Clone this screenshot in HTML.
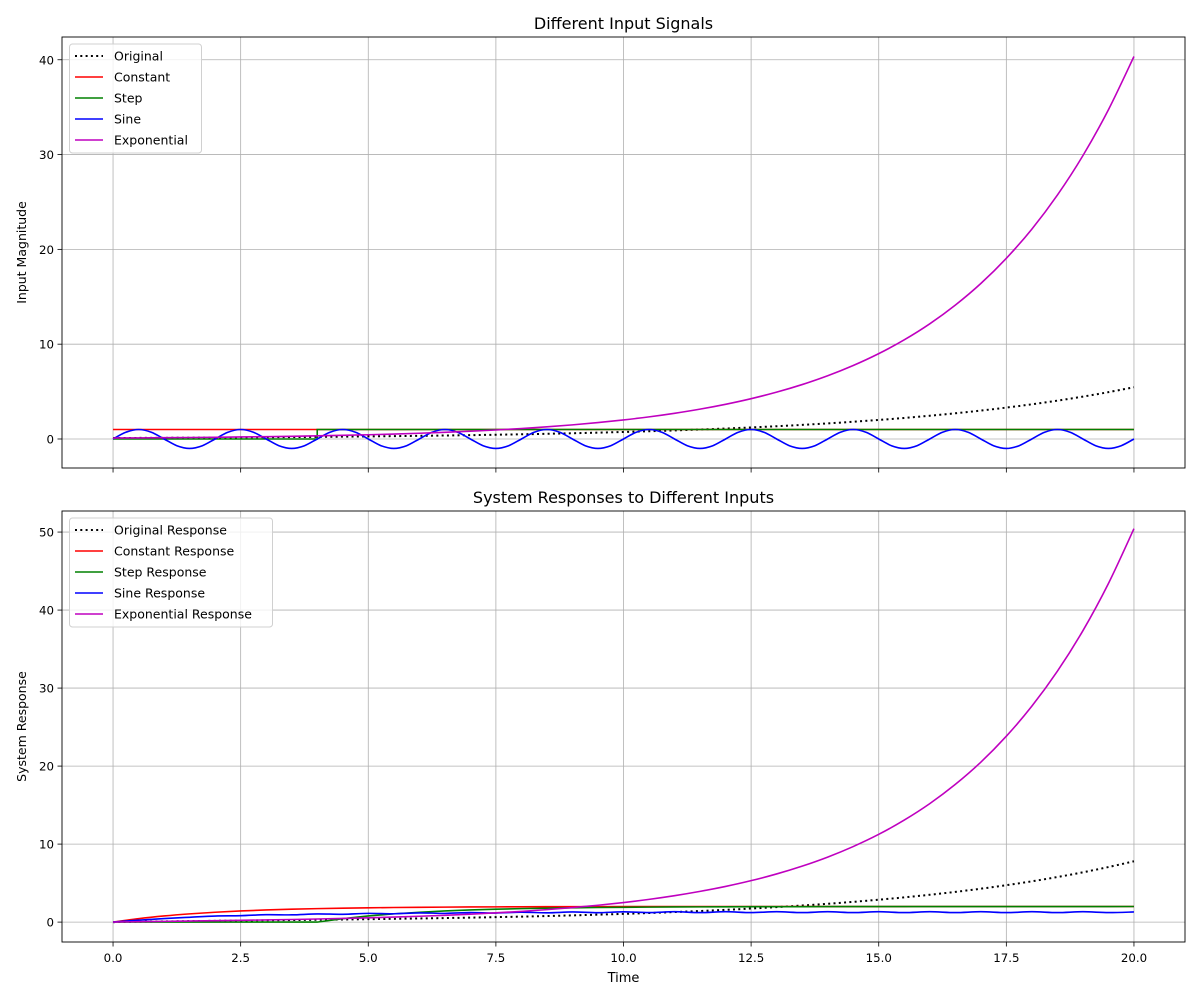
<!DOCTYPE html>
<html><head><meta charset="utf-8"><style>
body{margin:0;background:#fff;}
svg{display:block;font-family:"DejaVu Sans","Liberation Sans",sans-serif;}
</style></head><body>
<svg id="chart" width="1200" height="1000" xmlns="http://www.w3.org/2000/svg"></svg>
<script>
const times = [0,0.5,1,1.5,2,2.5,3,3.5,4,4.5,5,5.5,6,6.5,7,7.5,8,8.5,9,9.5,10,10.5,11,11.5,12,12.5,13,13.5,14,14.5,15,15.5,16,16.5,17,17.5,18,18.5,19,19.5,20];
const sineTimes = [0,0.25,0.5,0.75,1,1.25,1.5,1.75,2,2.25,2.5,2.75,3,3.25,3.5,3.75,4,4.25,4.5,4.75,5,5.25,5.5,5.75,6,6.25,6.5,6.75,7,7.25,7.5,7.75,8,8.25,8.5,8.75,9,9.25,9.5,9.75,10,10.25,10.5,10.75,11,11.25,11.5,11.75,12,12.25,12.5,12.75,13,13.25,13.5,13.75,14,14.25,14.5,14.75,15,15.25,15.5,15.75,16,16.25,16.5,16.75,17,17.25,17.5,17.75,18,18.25,18.5,18.75,19,19.25,19.5,19.75,20];
const originalInput = [.1,.111,.122,.135,.149,.165,.182,.201,.223,.246,.272,.300,.332,.367,.406,.448,.495,.547,.605,.669,.739,.817,.903,.997,1.102,1.218,1.346,1.488,1.644,1.817,2.009,2.220,2.453,2.711,2.996,3.312,3.660,4.045,4.470,4.940,5.460];
const expInput = [.1,.116,.135,.157,.182,.212,.246,.286,.332,.386,.448,.521,.605,.703,.817,.949,1.102,1.281,1.488,1.729,2.009,2.333,2.711,3.150,3.660,4.252,4.940,5.740,6.669,7.749,9.002,10.46,12.15,14.12,16.40,19.06,22.14,25.73,29.89,34.73,40.34];
const constTimes = [0,20];
const constInput = [1,1];
const stepTimes = [0,4,4,20];
const stepInput = [0,0,1,1];
const sineInput = [0,.707,1,.707,0,-.707,-1,-.707,0,.707,1,.707,0,-.707,-1,-.707,0,.707,1,.707,0,-.707,-1,-.707,0,.707,1,.707,0,-.707,-1,-.707,0,.707,1,.707,0,-.707,-1,-.707,0,.707,1,.707,0,-.707,-1,-.707,0,.707,1,.707,0,-.707,-1,-.707,0,.707,1,.707,0,-.707,-1,-.707,0,.707,1,.707,0,-.707,-1,-.707,0,.707,1,.707,0,-.707,-1,-.707,0];
const originalResp = [0,.047,.088,.125,.161,.195,.228,.263,.299,.336,.377,.420,.467,.519,.575,.637,.705,.780,.863,.954,1.055,1.166,1.289,1.425,1.575,1.741,1.924,2.126,2.349,2.597,2.870,3.172,3.505,3.874,4.281,4.732,5.229,5.779,6.387,7.059,7.800];
const constResp = [0,.442,.787,1.055,1.264,1.427,1.554,1.652,1.729,1.789,1.836,1.872,1.900,1.922,1.940,1.953,1.963,1.971,1.978,1.983,1.987,1.990,1.992,1.994,1.995,1.996,1.997,1.998,1.998,1.999,1.999,1.999,2,2,2,2,2,2,2,2,2];
const stepResp = [0,0,0,0,0,0,0,0,0,.442,.787,1.055,1.264,1.427,1.554,1.652,1.729,1.789,1.836,1.872,1.900,1.922,1.940,1.953,1.963,1.971,1.978,1.983,1.987,1.990,1.992,1.994,1.995,1.996,1.997,1.998,1.998,1.999,1.999,1.999,2];
const sineResp = [0,.25,.45,.62,.78,.82,.95,.93,1.05,1.0,1.12,1.07,1.18,1.12,1.23,1.16,1.27,1.19,1.30,1.21,1.32,1.22,1.33,1.22,1.33,1.22,1.33,1.22,1.33,1.22,1.33,1.22,1.33,1.22,1.33,1.22,1.33,1.22,1.33,1.22,1.30];
const expResp = [0,.048,.093,.137,.182,.229,.279,.335,.398,.469,.550,.643,.750,.874,1.017,1.186,1.377,1.601,1.860,2.161,2.511,2.916,3.389,3.938,4.575,5.315,6.175,7.175,8.336,9.686,11.25,13.08,15.19,17.65,20.50,23.83,27.68,32.16,37.36,43.41,50.43];
const xTicks = [0,2.5,5,7.5,10,12.5,15,17.5,20];
const xTickLabels = ["0.0","2.5","5.0","7.5","10.0","12.5","15.0","17.5","20.0"];
const topYTicks = [0,10,20,30,40];
const botYTicks = [0,10,20,30,40,50];

const NS="http://www.w3.org/2000/svg";
const svg=document.getElementById('chart');
function mk(tag,attrs,parent){const e=document.createElementNS(NS,tag);for(const k in attrs)e.setAttribute(k,attrs[k]);(parent||svg).appendChild(e);return e;}
const L=62,R=1185;
const xs=t=>L+(t+1)/22*(R-L);
function panel(top,bottom,ymin,ymax,yTicks,title,ylabel,series,legendW,showX,prefix){
  const ys=v=>bottom-(v-ymin)/(ymax-ymin)*(bottom-top);
  const g=mk('g',{});
  
  
  xTicks.forEach((t,i)=>{
    const gl=mk('line',{x1:xs(t),x2:xs(t),y1:top,y2:bottom,stroke:'#b0b0b0','stroke-width':0.8},g);
    
    
    mk('line',{x1:xs(t),x2:xs(t),y1:bottom,y2:bottom+4.5,stroke:'#000','stroke-width':0.8},g);
    if(showX){
      const tl=mk('text',{x:xs(t),y:bottom+20,'font-size':11.8,'text-anchor':'middle'},g);
      tl.textContent=xTickLabels[i];
      
      
    }
  });
  yTicks.forEach(v=>{
    const gl=mk('line',{x1:L,x2:R,y1:ys(v),y2:ys(v),stroke:'#b0b0b0','stroke-width':0.8},g);
    
    
    mk('line',{x1:L-4.5,x2:L,y1:ys(v),y2:ys(v),stroke:'#000','stroke-width':0.8},g);
    const tl=mk('text',{x:L-8,y:ys(v)+4.5,'font-size':11.8,'text-anchor':'end'},g);
    tl.textContent=String(v);
    
    
  });
  const clip=mk('clipPath',{id:prefix+'clip'},g);
  mk('rect',{x:L,y:top,width:R-L,height:bottom-top},clip);
  series.forEach(s=>{
    let d='';
    const pts=s.t.map((t,i)=>[xs(t),ys(s.v[i])]);
    if(s.smooth){
      d='M'+pts[0][0]+','+pts[0][1];
      for(let i=0;i<pts.length-1;i++){
        const p0=pts[Math.max(0,i-1)],p1=pts[i],p2=pts[i+1],p3=pts[Math.min(pts.length-1,i+2)];
        const c1=[p1[0]+(p2[0]-p0[0])/6,p1[1]+(p2[1]-p0[1])/6];
        const c2=[p2[0]-(p3[0]-p1[0])/6,p2[1]-(p3[1]-p1[1])/6];
        d+=' C'+c1[0]+','+c1[1]+' '+c2[0]+','+c2[1]+' '+p2[0]+','+p2[1];
      }
    } else d='M'+pts.map(p=>p[0]+','+p[1]).join(' L');
    const p=mk('path',{d:d,fill:'none',stroke:s.c,'stroke-width':s.dot?2:1.6,'stroke-dasharray':s.dot?'2,3.3':'none','clip-path':'url(#'+prefix+'clip)'},g);
    
    
  });
  mk('rect',{x:L,y:top,width:R-L,height:bottom-top,fill:'none',stroke:'#000','stroke-width':0.9},g);
  const tt=mk('text',{x:(L+R)/2,y:top-8,'font-size':16,'text-anchor':'middle'},g);
  tt.textContent=title;
  
  
  const yl=mk('text',{x:0,y:0,'font-size':12.5,'text-anchor':'middle',transform:'translate(26,'+((top+bottom)/2)+') rotate(-90)'},g);
  yl.textContent=ylabel;
  
  
  const lg=mk('g',{},g);
  
  
  mk('rect',{x:69.5,y:top+7,width:legendW,height:109,rx:3,fill:'#fff','fill-opacity':0.8,stroke:'#d0d0d0'},lg);
  series.forEach((s,i)=>{
    const y=top+19+i*21;
    mk('line',{x1:75,x2:103,y1:y,y2:y,stroke:s.c,'stroke-width':s.dot?2:1.6,'stroke-dasharray':s.dot?'2,3.3':'none'},lg);
    const t=mk('text',{x:114,y:y+4.5,'font-size':12.5},lg);
    t.textContent=s.label;
    
    
  });
}
panel(37,468,-3.06,42.4,topYTicks,'Different Input Signals','Input Magnitude',[
 {t:times,v:originalInput,c:'#000',dot:true,smooth:true,label:'Original',name:'original-line'},
 {t:constTimes,v:constInput,c:'#ff0000',label:'Constant',name:'constant-line'},
 {t:stepTimes,v:stepInput,c:'#008000',label:'Step',name:'step-line'},
 {t:sineTimes,v:sineInput,c:'#0000ff',smooth:true,label:'Sine',name:'sine-line'},
 {t:times,v:expInput,c:'#bf00bf',smooth:true,label:'Exponential',name:'exponential-line'}
],132,false,'top');
panel(511,942,-2.55,52.7,botYTicks,'System Responses to Different Inputs','System Response',[
 {t:times,v:originalResp,c:'#000',dot:true,smooth:true,label:'Original Response',name:'original-response-line'},
 {t:times,v:constResp,c:'#ff0000',smooth:true,label:'Constant Response',name:'constant-response-line'},
 {t:times,v:stepResp,c:'#008000',label:'Step Response',name:'step-response-line'},
 {t:times,v:sineResp,c:'#0000ff',smooth:true,label:'Sine Response',name:'sine-response-line'},
 {t:times,v:expResp,c:'#bf00bf',smooth:true,label:'Exponential Response',name:'exponential-response-line'}
],203,true,'bottom');
const xl=mk('text',{x:(L+R)/2,y:982,'font-size':13,'text-anchor':'middle'});
xl.textContent='Time';


</script>
</body></html>
